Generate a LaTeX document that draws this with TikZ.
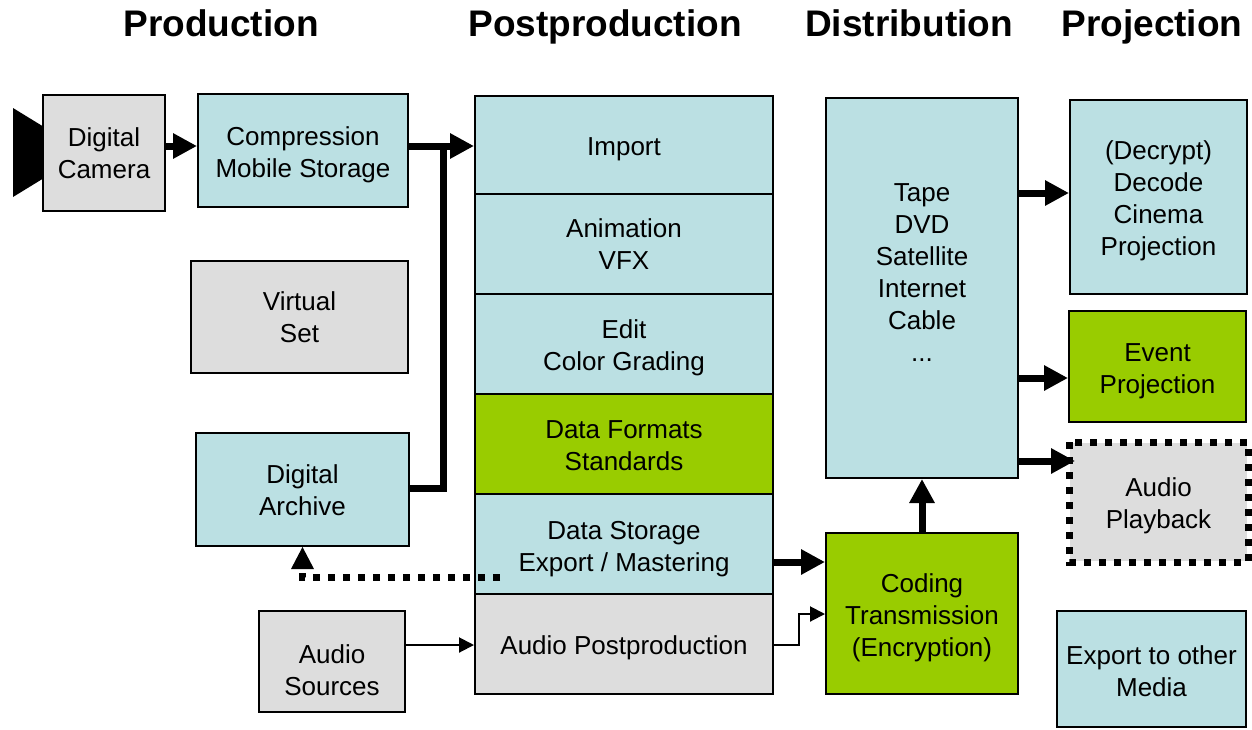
\documentclass[tikz,border=0pt]{standalone}
\usepackage{fontspec}
\setmainfont{Liberation Sans}
\usetikzlibrary{arrows.meta}
\definecolor{bblue}{HTML}{BBE0E3}
\definecolor{bgray}{HTML}{DDDDDD}
\definecolor{bgreen}{HTML}{99CC00}
\newcommand\boxtxt[2][4pt]{\raisebox{-#1}[\height][\depth]{\begin{tabular}{@{}c@{}}#2\end{tabular}}}
\tikzset{
  box/.style={draw=black, line width=2pt, inner sep=0pt,
    font=\fontsize{26}{32}\selectfont},
  bluebox/.style={box, fill=bblue},
  graybox/.style={box, fill=bgray},
  greenbox/.style={box, fill=bgreen},
  thk/.style={line width=7pt, line join=miter, line cap=butt},
  thkarrow/.style={thk, -{Triangle[length=24pt,width=24pt]}},
  thnarrow/.style={line width=2pt, line join=miter, -{Triangle[length=15pt,width=15pt]}},
  dotline/.style={line width=7pt, dash pattern=on 7pt off 8pt},
  title/.style={anchor=base, font=\fontsize{37}{40}\selectfont\bfseries}
}
\begin{document}
\begin{tikzpicture}[x=1pt,y=-1pt]
\useasboundingbox (0,0) rectangle (1252,729);

% titles
\node[title] (t1) at (221,36) {Production};
\node[title] (t2) at (605,36) {Postproduction};
\node[title] (t3) at (909,36) {Distribution};
\node[title] (t4) at (1152,36) {Projection};

% camera lens
\fill (13,108) -- (44,127) -- (44,178) -- (13,197) -- cycle;

% production boxes
\node[graybox, minimum width=122pt, minimum height=116pt] (cam) at (104,153) {\boxtxt[2.7pt]{Digital\\Camera}};
\node[bluebox, minimum width=210pt, minimum height=113pt] (comp) at (303,150.5) {\boxtxt[4.2pt]{Compression\\Mobile Storage}};
\node[graybox, minimum width=217pt, minimum height=112pt] (vset) at (299.5,317) {\boxtxt[2.7pt]{Virtual\\Set}};
\node[bluebox, minimum width=213pt, minimum height=113pt] (arch) at (302.5,489.5) {\boxtxt[3.2pt]{Digital\\Archive}};
\node[graybox, minimum width=146pt, minimum height=101pt] (asrc) at (332,661.5) {\boxtxt[11.7pt]{Audio\\Sources}};

% postproduction column
\node[bluebox, minimum width=298pt, minimum height=98pt] (import) at (624,145) {\boxtxt[4.4pt]{Import}};
\node[bluebox, minimum width=298pt, minimum height=100pt] (anim) at (624,244) {\boxtxt[2.7pt]{Animation\\VFX}};
\node[bluebox, minimum width=298pt, minimum height=100pt] (edit) at (624,344) {\boxtxt[3.7pt]{Edit\\Color Grading}};
\node[greenbox, minimum width=298pt, minimum height=100pt] (fmt) at (624,444) {\boxtxt[3.7pt]{Data Formats\\Standards}};
\node[bluebox, minimum width=298pt, minimum height=100pt] (stor) at (624,544) {\boxtxt[4.7pt]{Data Storage\\Export / Mastering}};
\node[graybox, minimum width=298pt, minimum height=100pt] (apost) at (624,644) {\boxtxt[3.7pt]{Audio Postproduction}};

% distribution
\node[bluebox, minimum width=192pt, minimum height=380pt] (dist) at (922,288) {\boxtxt[-12.8pt]{Tape\\DVD\\Satellite\\Internet\\Cable\\...}};
\node[greenbox, minimum width=192pt, minimum height=161pt] (cod) at (922,613.5) {\boxtxt[4.2pt]{Coding\\Transmission\\(Encryption)}};

% projection
\node[bluebox, minimum width=177pt, minimum height=194pt] (dec) at (1158.5,197) {\boxtxt[3.7pt]{(Decrypt)\\Decode\\Cinema\\Projection}};
\node[greenbox, minimum width=177pt, minimum height=111pt] (evt) at (1157.5,366.5) {\boxtxt[4.2pt]{Event\\Projection}};
\node[box, draw=none, fill=bgray, minimum width=177pt, minimum height=118pt] (aplay) at (1158.5,502) {\boxtxt[3.7pt]{Audio\\Playback}};
\draw[dotline] (aplay.north west) rectangle (aplay.south east);
\node[bluebox, minimum width=189pt, minimum height=116pt] (exp) at (1151.5,669) {\boxtxt[4.7pt]{Export to other\\Media}};

% connectors
\draw[thkarrow] (cam.east |- 0,146) -- (comp.west |- 0,146);
\coordinate (jn) at (443,146);
\draw[thk] (comp.east |- jn) -- (jn);
\draw[thkarrow] (jn) -- (import.west |- jn);
\draw[thk] (arch.east |- 0,488) -| ([yshift=-3.5pt]jn);

\coordinate (dstart) at (500,577);
\draw[dotline] (dstart) -| (arch.south |- 0,568);
\fill (arch.south) -- ++(11.5,22) -- ++(-23,0) -- cycle;

\draw[thnarrow] (asrc.east |- 0,645) -- (apost.west |- 0,645);
\draw[thnarrow] (apost.east |- 0,645) -| (799,614) -- (cod.west |- 0,614);
\draw[thkarrow] (stor.east |- 0,562) -- (cod.west |- 0,562);
\draw[thkarrow] (cod.north) -- (dist.south);

\draw[thkarrow] (dist.east |- 0,193) -- (dec.west |- 0,193);
\draw[thkarrow] (dist.east |- 0,378) -- (evt.west |- 0,378);
\draw[thkarrow] (dist.east |- 0,461) -- (1075,461);
\end{tikzpicture}
\end{document}
